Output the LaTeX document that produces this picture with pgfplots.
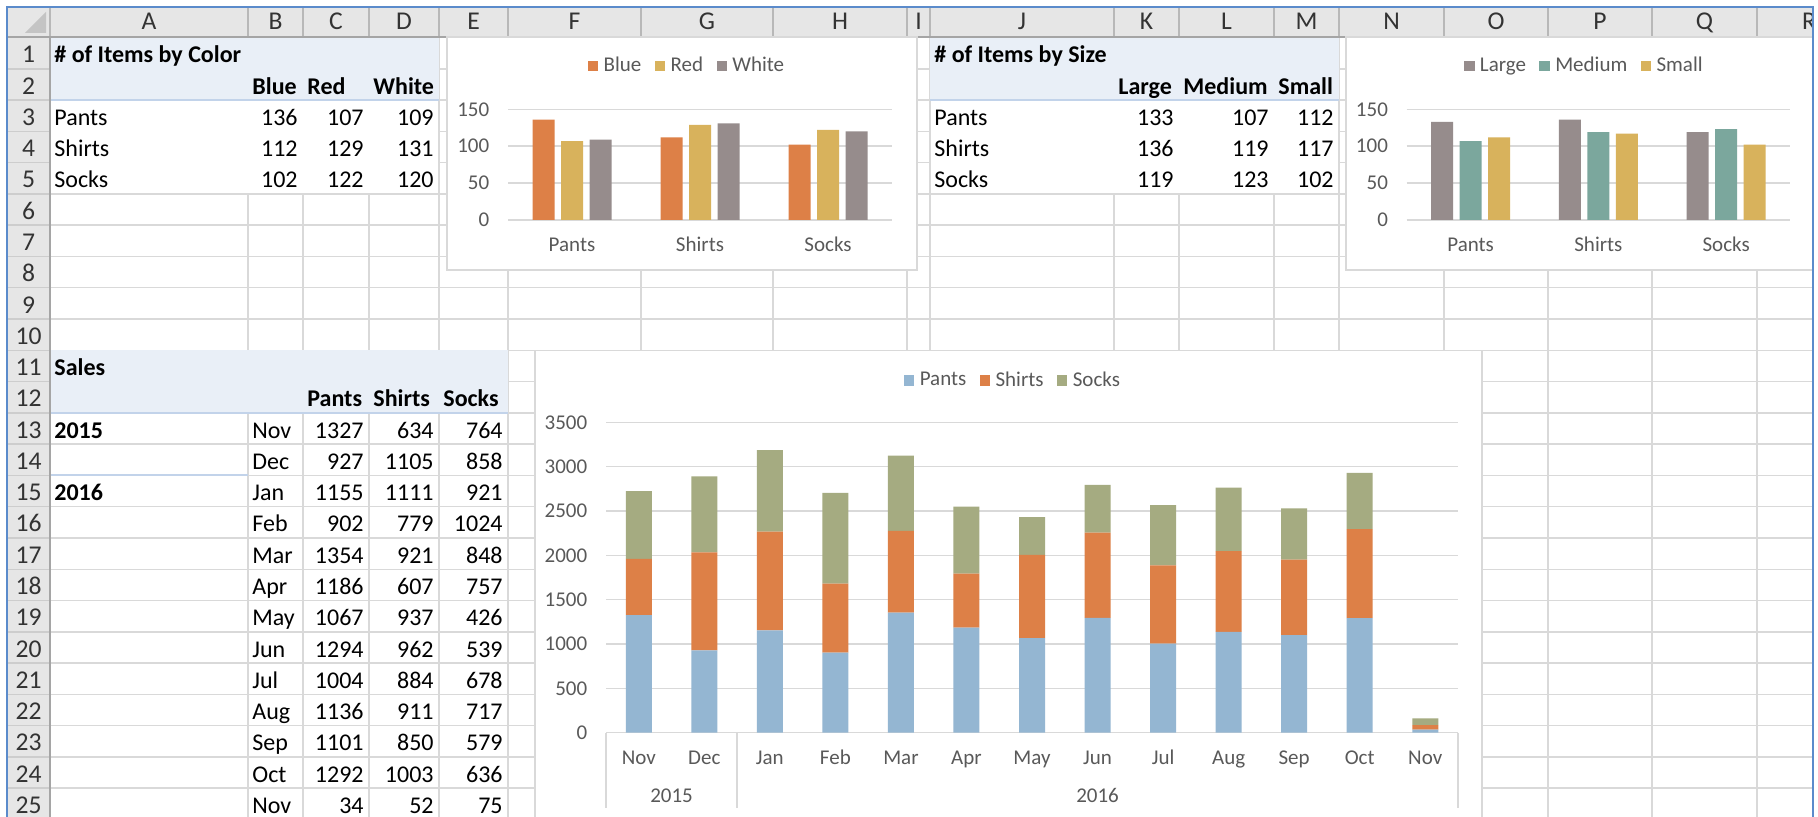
\documentclass[border=0pt]{standalone}
\usepackage{fontspec}
\setmainfont{Carlito}
\usepackage{pgfplots}
\pgfplotsset{compat=1.18}
\definecolor{cLBlue}{HTML}{94B6D2}
\definecolor{cOrange}{HTML}{DD8047}
\definecolor{cOlive}{HTML}{A5AB81}
\definecolor{cGold}{HTML}{D8B25C}
\definecolor{cTeal}{HTML}{7BA79D}
\definecolor{cGray}{HTML}{968C8C}
\definecolor{txtgray}{HTML}{595959}
\definecolor{chartgrid}{HTML}{D9D9D9}
\definecolor{cellgrid}{HTML}{D9D9D9}
\definecolor{band}{HTML}{E9EFF7}
\definecolor{bandline}{HTML}{C2D3EA}
\definecolor{hdrfill}{HTML}{E6E6E6}
\definecolor{hdrline}{HTML}{B8B8B8}
\definecolor{hdrtext}{HTML}{333333}
\definecolor{frameblue}{HTML}{5B8BCB}
\definecolor{corner}{HTML}{C4C4C4}
\newcommand{\cf}{\fontsize{12}{13.5}\selectfont}
\newcommand{\hf}{\fontsize{12.8}{14}\selectfont}
\newcommand{\chf}{\fontsize{10.5}{12}\selectfont}
\newcommand{\cL}[3]{\node[anchor=base west,inner sep=0pt,font=\cf] at (#1,{37.5+#2*31.28-6}) {#3};}
\newcommand{\cR}[3]{\node[anchor=base east,inner sep=0pt,font=\cf] at (#1,{37.5+#2*31.28-6}) {#3};}
\newcommand{\cB}[3]{\node[anchor=base west,inner sep=0pt,font=\cf\bfseries] at (#1,{37.5+#2*31.28-6}) {#3};}
\pgfplotsset{
  sq/.style={legend image code/.code={\fill[##1] (0pt,-2.6pt) rectangle (5.2pt,2.6pt);}},
  xlchart/.style={
    scale only axis, clip=false,
    axis line style={draw=none},
    major tick length=0pt,
    ymajorgrids, major grid style={draw=chartgrid, line width=0.75pt},
    tick label style={font=\chf, text=txtgray},
    yticklabel style={anchor=east, inner sep=0pt, xshift=-9.2pt},
    xticklabel style={anchor=base, inner sep=0pt, yshift=-15.85pt},
    legend style={draw=none, fill=none, font=\chf, text=txtgray, inner sep=0pt,
      nodes={inner sep=0pt},
      /tikz/every odd column/.append style={column sep=2.7pt},
      /tikz/every even column/.append style={column sep=6.7pt}},
    legend columns=3,
    every axis plot post/.append style={sq, draw=none},
    /pgf/number format/assume math mode=true,
    /pgf/number format/1000 sep={},
  },
}
\begin{document}
\begin{tikzpicture}
\useasboundingbox (0,0) rectangle (909pt,408.5pt);
\fill[white] (0,0) rectangle (909pt,408.5pt);
\begin{scope}[x=0.5pt,y=-0.5pt,yshift=408.5pt]
\clip (7,0) rectangle (1813,817);
% cell gridlines
\foreach \k in {1,...,25} \draw[cellgrid,line width=0.75pt] (50,{37.5+\k*31.28}) -- (1813,{37.5+\k*31.28});
\foreach \c in {248,303,369,439,508,641,773,907,930,1114,1179,1274,1339,1444,1548,1652,1757}
  \draw[cellgrid,line width=0.75pt] (\c,37) -- (\c,817);
% bands
\fill[band] (50,37.5) rectangle (439,100.06);
\fill[band] (930,37.5) rectangle (1339,100.06);
\fill[band] (50,350.3) rectangle (508,412.9);
\fill[white] (51,101) rectangle (438.4,193.2);
\fill[white] (931,101) rectangle (1338.4,193.2);
\draw[bandline,line width=0.9pt] (50,100.06) -- (439,100.06);
\draw[bandline,line width=0.9pt] (930,100.06) -- (1339,100.06);
\draw[bandline,line width=0.9pt] (50,412.9) -- (508,412.9);
\draw[bandline,line width=0.9pt] (50,475.4) -- (248,475.4);
% headers
\fill[hdrfill] (7,7) rectangle (1813,37);
\fill[hdrfill] (7,37) rectangle (50,817);
\foreach \c in {50,248,303,369,439,508,641,773,907,930,1114,1179,1274,1339,1444,1548,1652,1757}
  \draw[hdrline,line width=0.75pt] (\c,8) -- (\c,37);
\foreach \k in {1,...,25} \draw[hdrline!70,line width=0.75pt] (7,{37.5+\k*31.28}) -- (50,{37.5+\k*31.28});
\draw[hdrline!90!black,line width=0.9pt] (7,37.3) -- (1813,37.3);
\draw[hdrline!90!black,line width=0.9pt] (50,37) -- (50,817);
\fill[corner] (46,12) -- (46,33) -- (25,33) -- cycle;
\foreach \x/\l in {149/A,275.5/B,336/C,404/D,473.5/E,574.5/F,707/G,840/H,918.5/I,1022/J,1146.5/K,1226.5/L,1306.5/M,1391.5/N,1496/O,1600/P,1704.5/Q,1809/R}
  \node[anchor=base,inner sep=0pt,font=\hf,text=hdrtext] at (\x,29.5) {\l};
\foreach \r in {1,...,25}
  \node[anchor=base,inner sep=0pt,font=\hf,text=hdrtext] at (28.5,{37.5+\r*31.28-6}) {\r};
% table 1
\cB{54}{1}{\# of Items by Color}
\cB{252}{2}{Blue}\cB{307}{2}{Red}\cB{373}{2}{White}
\foreach \r/\n/\a/\b/\c in {3/Pants/136/107/109,4/Shirts/112/129/131,5/Socks/102/122/120}
  {\cL{54}{\r}{\n}\cR{298}{\r}{\a}\cR{364}{\r}{\b}\cR{434}{\r}{\c}}
% table 2
\cB{934}{1}{\# of Items by Size}
\cB{1118}{2}{Large}\cB{1183}{2}{Medium}\cB{1278}{2}{Small}
\foreach \r/\n/\a/\b/\c in {3/Pants/133/107/112,4/Shirts/136/119/117,5/Socks/119/123/102}
  {\cL{934}{\r}{\n}\cR{1174}{\r}{\a}\cR{1269}{\r}{\b}\cR{1334}{\r}{\c}}
% table 3
\cB{54}{11}{Sales}
\cB{307}{12}{Pants}\cB{373}{12}{Shirts}\cB{443}{12}{Socks}
\cB{54}{13}{2015}\cB{54}{15}{2016}
\foreach \r/\m/\a/\b/\c in {13/Nov/1327/634/764,14/Dec/927/1105/858,15/Jan/1155/1111/921,16/Feb/902/779/1024,17/Mar/1354/921/848,18/Apr/1186/607/757,19/May/1067/937/426,20/Jun/1294/962/539,21/Jul/1004/884/678,22/Aug/1136/911/717,23/Sep/1101/850/579,24/Oct/1292/1003/636,25/Nov/34/52/75}
  {\cL{252}{\r}{\m}\cR{364}{\r}{\a}\cR{434}{\r}{\b}\cR{503}{\r}{\c}}
% chart frames
\filldraw[fill=white,draw=chartgrid,line width=0.75pt] (447,37) rectangle (917,270);
\filldraw[fill=white,draw=chartgrid,line width=0.75pt] (1346,37) rectangle (1816,270);
\filldraw[fill=white,draw=chartgrid,line width=0.75pt] (535,350.5) rectangle (1482,830);
\end{scope}

% chart 1
\begin{axis}[xlchart, at={(254pt,298.5pt)}, anchor=south west,
  width=192pt, height=55.35pt, xmin=-0.5, xmax=2.5, ymin=0, ymax=150,
  ytick={0,50,100,150}, xtick={0,1,2}, xticklabels={Pants,Shirts,Socks},
  ybar=3.25pt, bar width=11pt,
  legend style={at={(0.4635,1.391)}, anchor=center}]
\addplot[fill=cOrange] coordinates {(0,136) (1,112) (2,102)};
\addlegendentry{Blue}
\addplot[fill=cGold] coordinates {(0,107) (1,129) (2,122)};
\addlegendentry{Red}
\addplot[fill=cGray] coordinates {(0,109) (1,131) (2,120)};
\addlegendentry{White}
\end{axis}

% chart 2
\begin{axis}[xlchart, at={(703.35pt,298.5pt)}, anchor=south west,
  width=191.65pt, height=55.35pt, xmin=-0.5, xmax=2.5, ymin=0, ymax=150,
  ytick={0,50,100,150}, xtick={0,1,2}, xticklabels={Pants,Shirts,Socks},
  ybar=3.25pt, bar width=11pt,
  legend style={at={(0.461,1.391)}, anchor=center}]
\addplot[fill=cGray] coordinates {(0,133) (1,136) (2,119)};
\addlegendentry{Large}
\addplot[fill=cTeal] coordinates {(0,107) (1,119) (2,123)};
\addlegendentry{Medium}
\addplot[fill=cGold] coordinates {(0,112) (1,117) (2,102)};
\addlegendentry{Small}
\end{axis}

% chart 3
\begin{axis}[xlchart, at={(303pt,42.15pt)}, anchor=south west,
  width=426pt, height=155.2pt, xmin=-0.5, xmax=12.5, ymin=0, ymax=3500,
  ytick={0,500,...,3500}, xtick={0,...,12},
  xticklabels={Nov,Dec,Jan,Feb,Mar,Apr,May,Jun,Jul,Aug,Sep,Oct,Nov},
  ybar stacked, bar width=13pt,
  legend style={at={(0.4765,1.134)}, anchor=center}]
\addplot[fill=cLBlue] coordinates {(0,1327) (1,927) (2,1155) (3,902) (4,1354) (5,1186) (6,1067) (7,1294) (8,1004) (9,1136) (10,1101) (11,1292) (12,34)};
\addlegendentry{Pants}
\addplot[fill=cOrange] coordinates {(0,634) (1,1105) (2,1111) (3,779) (4,921) (5,607) (6,937) (7,962) (8,884) (9,911) (10,850) (11,1003) (12,52)};
\addlegendentry{Shirts}
\addplot[fill=cOlive] coordinates {(0,764) (1,858) (2,921) (3,1024) (4,848) (5,757) (6,426) (7,539) (8,678) (9,717) (10,579) (11,636) (12,75)};
\addlegendentry{Socks}
\draw[chartgrid,line width=0.75pt] (axis cs:-0.5,0) -- ++(0pt,-37.65pt);
\draw[chartgrid,line width=0.75pt] (axis cs:1.5,0) -- ++(0pt,-37.65pt);
\draw[chartgrid,line width=0.75pt] (axis cs:12.5,0) -- ++(0pt,-37.65pt);
\node[anchor=base,inner sep=0pt,font=\chf,text=txtgray] at ([yshift=-34.85pt]axis cs:0.5,0) {2015};
\node[anchor=base,inner sep=0pt,font=\chf,text=txtgray] at ([yshift=-34.85pt]axis cs:7,0) {2016};
\end{axis}

\begin{scope}[x=0.5pt,y=-0.5pt,yshift=408.5pt]
\draw[frameblue,line width=1.2pt] (7,817) -- (7,7) -- (1813,7) -- (1813,817);
\end{scope}
\end{tikzpicture}
\end{document}
